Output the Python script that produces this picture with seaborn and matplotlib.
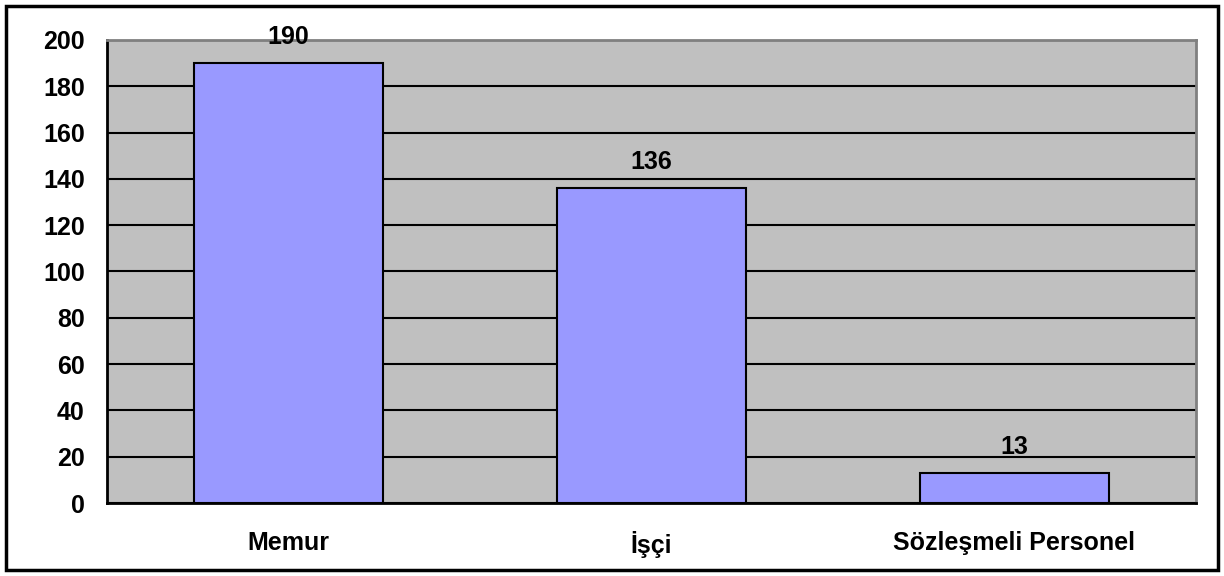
import matplotlib
matplotlib.use("Agg")
import matplotlib.pyplot as plt
import seaborn as sns
import pandas as pd
from matplotlib.patches import Rectangle

# veriler
kategoriler = ["Memur", "İşçi", "Sözleşmeli Personel"]
degerler = [190, 136, 13]
y_ticks = [0, 20, 40, 60, 80, 100, 120, 140, 160, 180, 200]

df = pd.DataFrame({"kategori": kategoriler, "sayi": degerler})

sns.set_style("white")
plt.rcParams["font.family"] = ["Liberation Sans", "DejaVu Sans"]
plt.rcParams["font.weight"] = "bold"
plt.rcParams["text.color"] = "black"
plt.rcParams["xtick.color"] = "black"
plt.rcParams["ytick.color"] = "black"

fig = plt.figure(figsize=(12.24, 5.76), dpi=100)
ax = fig.add_axes([0.0874, 0.1267, 0.8896, 0.8039])
ax.set_facecolor("#C0C0C0")

sns.barplot(data=df, x="kategori", y="sayi", color="#9999FF", width=0.52,
            edgecolor="black", linewidth=1.5, saturation=1, ax=ax, zorder=3)

ax.set_ylim(0, 200)
ax.set_xlim(-0.5, 2.5)
ax.set_yticks(y_ticks)
ax.yaxis.grid(True, color="black", linewidth=1.5, zorder=0)
ax.set_axisbelow(True)

# kategori sinirlari icin alt tikler
ax.set_xticks([-0.5, 0.5, 1.5, 2.5], minor=True)
ax.tick_params(axis="x", which="major", length=0, pad=20, labelsize=18)
ax.tick_params(axis="x", which="minor", length=7, width=1.5, direction="out")
ax.tick_params(axis="y", length=7, width=1.5, direction="out", labelsize=18, pad=9)
for lbl in ax.get_xticklabels() + ax.get_yticklabels():
    lbl.set_fontweight("bold")
    lbl.set_color("black")

ax.set_xlabel("")
ax.set_ylabel("")

for side in ["left", "bottom"]:
    ax.spines[side].set_color("black")
    ax.spines[side].set_linewidth(2)
for side in ["top", "right"]:
    ax.spines[side].set_color("#808080")
    ax.spines[side].set_linewidth(2)

for i, v in enumerate(degerler):
    ax.annotate(str(v), (i, v), xytext=(0, 19), textcoords="offset points",
                ha="center", va="center", fontsize=18, fontweight="bold", color="black")

# cerceve
fig.patches.append(Rectangle((0.005, 0.01), 0.99, 0.98, transform=fig.transFigure,
                             fill=False, edgecolor="black", linewidth=2.5))

fig.savefig("out.png", dpi=100)
